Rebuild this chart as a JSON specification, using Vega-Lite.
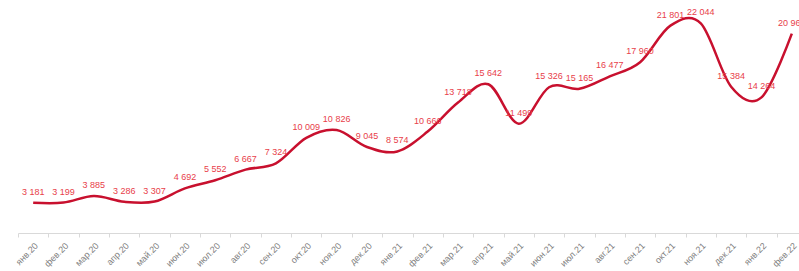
{
  "$schema": "https://vega.github.io/schema/vega-lite/v6.json",
  "autosize": {"type": "none"},
  "width": 789,
  "height": 233,
  "padding": {"left": 18, "top": 0, "right": 0, "bottom": 38},
  "background": "white",
  "config": {
    "view": {"stroke": null},
    "locale": {"number": {"decimal": ",", "thousands": " ", "grouping": [3], "currency": ["", ""]}}
  },
  "data": {
    "values": [
      {"m": "янв.20", "v": 3181},
      {"m": "фев.20", "v": 3199},
      {"m": "мар.20", "v": 3885},
      {"m": "апр.20", "v": 3286},
      {"m": "май.20", "v": 3307},
      {"m": "июн.20", "v": 4692},
      {"m": "июл.20", "v": 5552},
      {"m": "авг.20", "v": 6667},
      {"m": "сен.20", "v": 7324},
      {"m": "окт.20", "v": 10009},
      {"m": "ноя.20", "v": 10826},
      {"m": "дек.20", "v": 9045},
      {"m": "янв.21", "v": 8574},
      {"m": "фев.21", "v": 10666},
      {"m": "мар.21", "v": 13718},
      {"m": "апр.21", "v": 15642},
      {"m": "май.21", "v": 11499},
      {"m": "июн.21", "v": 15326},
      {"m": "июл.21", "v": 15165},
      {"m": "авг.21", "v": 16477},
      {"m": "сен.21", "v": 17960},
      {"m": "окт.21", "v": 21801},
      {"m": "ноя.21", "v": 22044},
      {"m": "дек.21", "v": 15384},
      {"m": "янв.22", "v": 14264},
      {"m": "фев.22", "v": 20960}
    ]
  },
  "encoding": {
    "x": {
      "field": "m", "type": "ordinal", "sort": null,
      "scale": {"type": "band", "paddingInner": 0, "paddingOuter": 0},
      "axis": {
        "title": null, "labelAngle": -45, "labelColor": "#7f7f7f", "labelFont": "Liberation Sans",
        "labelFontSize": 9, "domainColor": "#d9d9d9", "tickColor": "#d9d9d9", "tickBand": "extent",
        "tickSize": 4, "labelPadding": 4
      }
    },
    "y": {
      "field": "v", "type": "quantitative",
      "scale": {"domain": [0, 24500], "nice": false},
      "axis": null
    }
  },
  "layer": [
    {"mark": {"type": "line", "interpolate": "cardinal", "color": "#c8102e", "strokeWidth": 2.5}},
    {"mark": {"type": "text", "dy": -11, "color": "#e8404a", "font": "Liberation Sans", "fontSize": 9},
     "encoding": {"text": {"field": "v", "type": "quantitative", "format": ","}}}
  ]
}
